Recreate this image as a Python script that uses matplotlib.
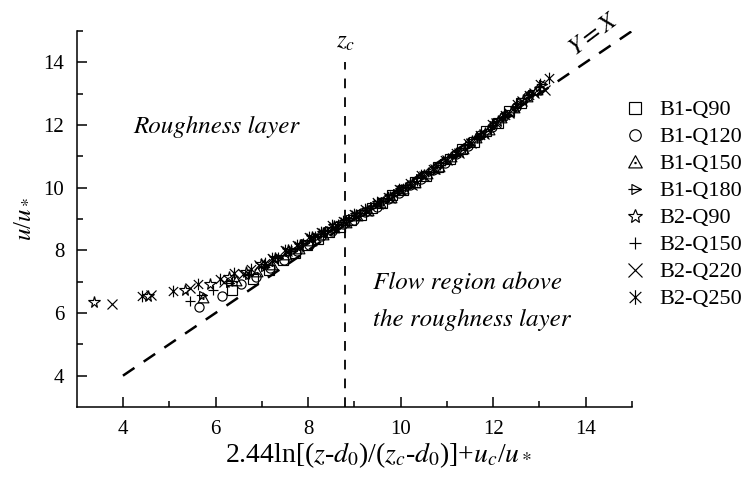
import matplotlib
matplotlib.use("Agg")
import matplotlib.pyplot as plt
from matplotlib.path import Path
import numpy as np

plt.rcParams['font.family'] = ['Liberation Serif', 'DejaVu Serif']
plt.rcParams['mathtext.fontset'] = 'stix'
plt.rcParams['lines.scale_dashes'] = False

# ---------------- data ----------------
series_names = ["B1-Q90", "B1-Q120", "B1-Q150", "B1-Q180",
                "B2-Q90", "B2-Q150", "B2-Q220", "B2-Q250"]

b1q90_x = [6.36, 6.81, 7.15, 7.45, 7.72, 7.98, 8.22, 8.46, 8.70, 8.93, 9.15, 9.38, 9.60,
           9.82, 10.05, 10.30, 10.55, 10.80, 11.06, 11.32, 11.58, 11.85, 12.10, 12.35, 12.60]
b1q90_y = [6.73, 7.07, 7.36, 7.68, 7.90, 8.17, 8.35, 8.59, 8.74, 8.97, 9.12, 9.35, 9.50,
           9.76, 9.92, 10.19, 10.38, 10.67, 10.90, 11.22, 11.46, 11.82, 12.06, 12.44, 12.70]

b1q120_x = [5.65, 6.14, 6.54, 6.88, 7.18, 7.47, 7.75, 8.02, 8.28, 8.52, 8.76, 9.00, 9.24,
            9.48, 9.72, 9.96, 10.20, 10.45, 10.70, 10.95, 11.20, 11.46, 11.72, 11.98, 12.24,
            12.50, 12.75]
b1q120_y = [6.19, 6.54, 6.91, 7.14, 7.44, 7.68, 7.97, 8.18, 8.45, 8.61, 8.85, 8.98, 9.22,
            9.38, 9.65, 9.83, 10.09, 10.28, 10.57, 10.78, 11.09, 11.33, 11.67, 11.93, 12.30,
            12.58, 12.92]

b1q150_x = [5.72, 6.45, 6.90, 7.22, 7.52, 7.80, 8.06, 8.32, 8.57, 8.82, 9.06, 9.30, 9.55,
            9.80, 10.05, 10.30, 10.56, 10.82, 11.08, 11.35, 11.62, 11.90, 12.17, 12.45, 12.72,
            12.95]
b1q150_y = [6.47, 7.02, 7.32, 7.53, 7.84, 8.03, 8.30, 8.48, 8.72, 8.88, 9.10, 9.25, 9.50,
            9.68, 9.95, 10.16, 10.44, 10.66, 10.98, 11.23, 11.57, 11.84, 12.22, 12.53, 12.90,
            13.13]

b1q180_x = [5.70, 6.30, 6.70, 7.05, 7.36, 7.65, 7.92, 8.18, 8.44, 8.68, 8.92, 9.16, 9.40,
            9.65, 9.90, 10.15, 10.40, 10.66, 10.92, 11.18, 11.45, 11.72, 12.00, 12.27, 12.55,
            12.82, 13.05]
b1q180_y = [6.56, 6.95, 7.22, 7.46, 7.77, 7.98, 8.24, 8.42, 8.66, 8.80, 9.03, 9.18, 9.42,
            9.58, 9.84, 10.03, 10.30, 10.50, 10.80, 11.03, 11.35, 11.61, 11.99, 12.28, 12.68,
            12.98, 13.30]

b2q90_x = [3.37, 4.55, 5.34, 5.88, 6.30, 6.65, 6.98, 7.28, 7.56, 7.83, 8.08, 8.33, 8.57,
           8.80, 9.04, 9.28, 9.52, 9.76, 10.00, 10.25, 10.50, 10.76, 11.02, 11.28, 11.55,
           11.82, 12.10, 12.38, 12.65, 12.90]
b2q90_y = [6.35, 6.54, 6.73, 6.94, 7.14, 7.30, 7.57, 7.76, 8.02, 8.18, 8.42, 8.56, 8.78,
           8.91, 9.12, 9.28, 9.52, 9.70, 9.94, 10.13, 10.40, 10.61, 10.92, 11.15, 11.48,
           11.75, 12.12, 12.42, 12.80, 13.06]

b2q150_x = [5.45, 5.94, 6.35, 6.72, 7.05, 7.35, 7.63, 7.90, 8.16, 8.41, 8.65, 8.89, 9.13,
            9.37, 9.61, 9.85, 10.10, 10.35, 10.60, 10.86, 11.12, 11.38, 11.65, 11.92, 12.20,
            12.48, 12.75, 13.00]
b2q150_y = [6.39, 6.73, 7.02, 7.26, 7.57, 7.78, 8.04, 8.22, 8.47, 8.62, 8.84, 8.98, 9.20,
            9.36, 9.59, 9.76, 10.02, 10.22, 10.50, 10.71, 11.02, 11.26, 11.60, 11.88, 12.26,
            12.58, 12.95, 13.20]

b2q220_x = [3.77, 4.61, 5.45, 6.19, 6.60, 6.95, 7.25, 7.54, 7.81, 8.07, 8.32, 8.56, 8.80,
            9.04, 9.28, 9.52, 9.76, 10.00, 10.25, 10.50, 10.75, 11.01, 11.27, 11.53, 11.80,
            12.07, 12.35, 12.62, 12.88, 13.12]
b2q220_y = [6.28, 6.57, 6.80, 6.98, 7.23, 7.52, 7.72, 7.98, 8.15, 8.39, 8.54, 8.76, 8.90,
            9.12, 9.26, 9.49, 9.66, 9.92, 10.10, 10.37, 10.58, 10.88, 11.11, 11.44, 11.70,
            12.07, 12.38, 12.76, 13.03, 13.12]

b2q250_x = [4.41, 5.09, 5.63, 6.09, 6.41, 6.77, 7.06, 7.23, 7.50, 7.76, 8.02, 8.27, 8.52,
            8.76, 9.00, 9.24, 9.48, 9.72, 9.96, 10.20, 10.45, 10.70, 10.95, 11.20, 11.46,
            11.72, 11.98, 12.25, 12.52, 12.78, 13.02, 13.20]
b2q250_y = [6.55, 6.69, 6.94, 7.07, 7.28, 7.42, 7.60, 7.75, 8.00, 8.18, 8.42, 8.58, 8.80,
            8.94, 9.16, 9.31, 9.54, 9.71, 9.96, 10.14, 10.40, 10.60, 10.89, 11.11, 11.42,
            11.68, 12.02, 12.31, 12.68, 12.96, 13.30, 13.50]

xs = [b1q90_x, b1q120_x, b1q150_x, b1q180_x, b2q90_x, b2q150_x, b2q220_x, b2q250_x]
ys = [b1q90_y, b1q120_y, b1q150_y, b1q180_y, b2q90_y, b2q150_y, b2q220_y, b2q250_y]

zc_value = 8.8
zc_line_y = [3.0, 14.0]
yx_line = [4.0, 15.0]
x_ticks = [4, 6, 8, 10, 12, 14]
y_ticks = [4, 6, 8, 10, 12, 14]

# ---------------- custom markers ----------------
tri_dot = Path(
    [(-0.5, -0.4), (0.5, -0.4), (0.0, 0.5), (-0.5, -0.4),
     (-0.04, -0.08), (0.04, -0.08), (0.04, 0.0), (-0.04, 0.0), (-0.04, -0.08)],
    [Path.MOVETO, Path.LINETO, Path.LINETO, Path.CLOSEPOLY,
     Path.MOVETO, Path.LINETO, Path.LINETO, Path.LINETO, Path.CLOSEPOLY])
tri_arrow = Path(
    [(-0.3, -0.42), (0.5, 0.0), (-0.3, 0.42), (-0.3, -0.42),
     (-0.6, 0.0), (0.5, 0.0)],
    [Path.MOVETO, Path.LINETO, Path.LINETO, Path.CLOSEPOLY,
     Path.MOVETO, Path.LINETO])
ast = Path(
    [(0, -0.5), (0, 0.5), (-0.4, -0.38), (0.4, 0.38), (-0.4, 0.38), (0.4, -0.38)],
    [Path.MOVETO, Path.LINETO, Path.MOVETO, Path.LINETO, Path.MOVETO, Path.LINETO])

markers = ['s', 'o', tri_dot, tri_arrow, '*', '+', 'x', ast]
msizes = [6.6, 6.6, 7.8, 8.2, 8.4, 7.2, 7.6, 8.4]

# ---------------- figure ----------------
fig = plt.figure(figsize=(7.48, 4.79), dpi=100)
ax = fig.add_axes([0.1025, 0.1503, 0.7425, 0.785])

for x, y, m, ms, name in zip(xs, ys, markers, msizes, series_names):
    ax.plot(x, y, linestyle='none', marker=m, markersize=ms, markerfacecolor='none',
            markeredgecolor='black', markeredgewidth=0.85, label=name)

ax.plot(yx_line, yx_line, color='black', linewidth=1.8, dashes=(10, 8))
ax.plot([zc_value, zc_value], zc_line_y, color='black', linewidth=1.3, dashes=(7, 6.5))

ax.set_xlim(3, 15)
ax.set_ylim(3, 15)
ax.set_xticks(x_ticks)
ax.set_yticks(y_ticks)
ax.set_xticks(np.arange(5, 16, 2), minor=True)
ax.set_yticks(np.arange(5, 16, 2), minor=True)
ax.tick_params(which='major', direction='in', length=7.5, width=1.1, labelsize=15, pad=9)
ax.tick_params(which='minor', direction='in', length=4.3, width=1.1)
for s in ['top', 'right']:
    ax.spines[s].set_visible(False)
for s in ['left', 'bottom']:
    ax.spines[s].set_linewidth(1.1)

ax.set_xlabel(r'2.44ln[($z$-$d_0$)/($z_c$-$d_0$)]+$u_c$/$u_*$', fontsize=20)
ax.xaxis.set_label_coords(0.543, -0.128)
ax.xaxis.label.set_va('center')
ax.set_ylabel(r'$u$/$u_*$', fontsize=18)
ax.yaxis.set_label_coords(-0.098, 0.5)
ax.yaxis.label.set_va('center')

ax.text(zc_value, 14.65, r'$z_c$', fontsize=18, ha='center', va='center')
ax.text(14.18, 14.88, r'$Y=X$', fontsize=18, ha='center', va='center', rotation=37)
ax.text(4.22, 11.95, 'Roughness layer', fontsize=18, family='STIXGeneral',
        style='italic', ha='left', va='center')
ax.text(9.41, 6.37, 'Flow region above\nthe roughness layer', fontsize=18,
        family='STIXGeneral', style='italic', ha='left', va='center', linespacing=1.85)

leg = ax.legend(loc='center left', bbox_to_anchor=(0.834, 0.573),
                bbox_transform=fig.transFigure, frameon=False, fontsize=16,
                handlelength=1.0, handletextpad=0.62, labelspacing=0.29,
                borderpad=0.0, borderaxespad=0.0, markerscale=1.25)

fig.savefig('out.png', dpi=100)
